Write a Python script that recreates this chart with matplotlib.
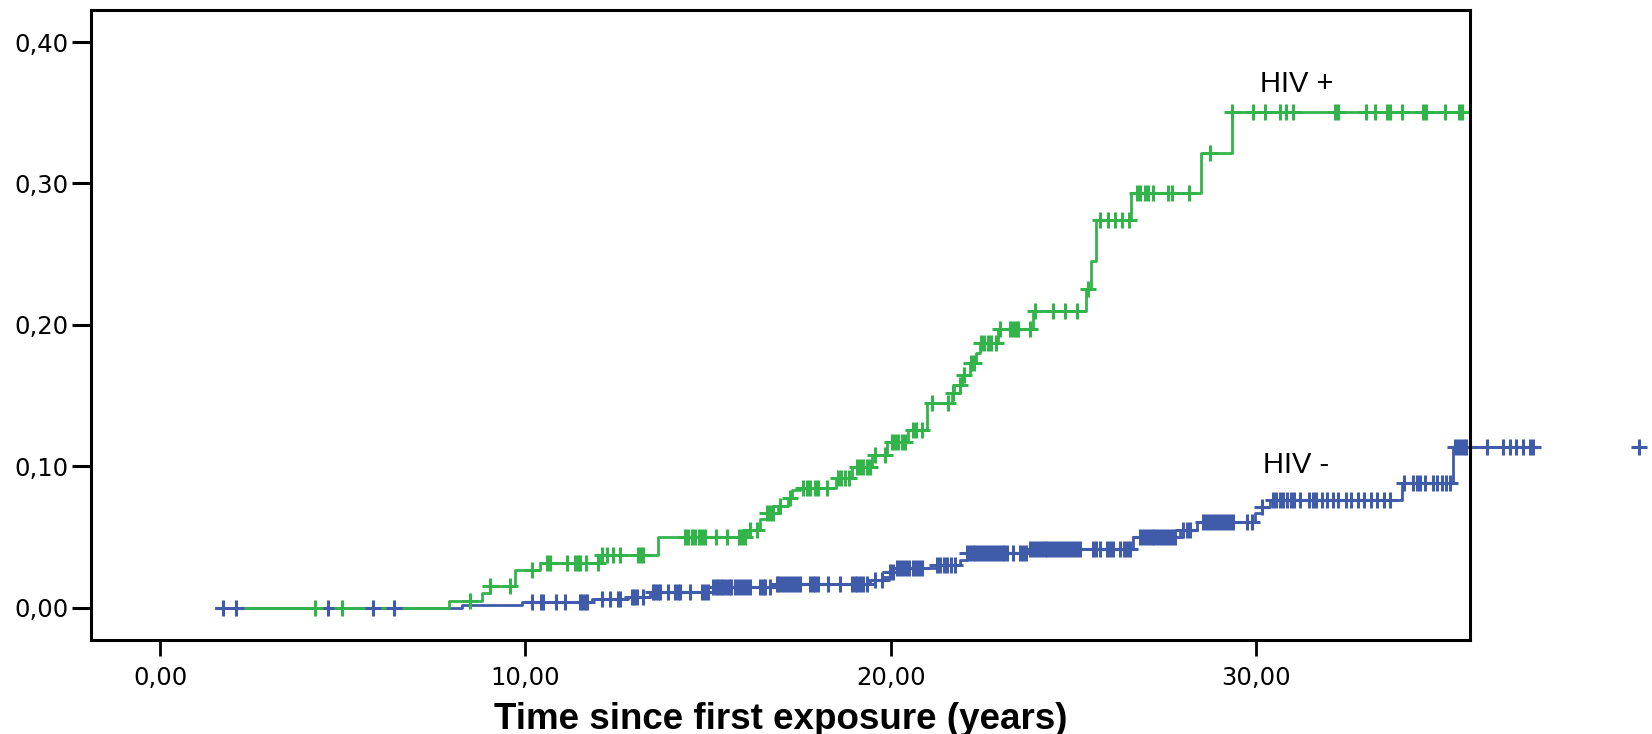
import numpy as np
import matplotlib
matplotlib.use("Agg")
import matplotlib.pyplot as plt

# ---- data (cumulative hazard style step curves) ----
# HIV+ : step times and the level reached at each time
pos_t = [2.30, 7.92, 8.80, 9.03, 9.72, 10.40, 12.08, 13.64, 16.06, 16.42,
         16.60, 16.92, 17.20, 17.29, 17.52, 18.50, 18.93, 19.48, 19.91, 20.48,
         21.00, 21.67, 21.73, 21.94, 22.17, 22.33, 22.44, 22.95, 23.90, 25.35,
         25.48, 25.62, 26.57, 28.49, 29.35]
pos_y = [0.0, 0.0050, 0.0104, 0.0155, 0.0269, 0.0316, 0.0375, 0.0500, 0.0550,
         0.0626, 0.0669, 0.0720, 0.0775, 0.0834, 0.0846, 0.0917, 0.0999, 0.1080,
         0.1170, 0.1258, 0.1447, 0.1518, 0.1576, 0.1647, 0.1730, 0.1800, 0.1870,
         0.1970, 0.2100, 0.2253, 0.2450, 0.2740, 0.2930, 0.3214, 0.3508]
pos_cens = [4.24, 4.99, 8.48, 9.03, 9.58, 10.19, 10.58, 10.67, 11.13, 11.36,
            11.43, 11.50, 11.66, 12.00, 12.10, 12.23, 12.40, 12.59, 13.09, 13.16,
            13.23, 14.37, 14.45, 14.56, 14.64, 14.74, 14.83, 14.92, 15.22, 15.51,
            15.85, 15.93, 16.01, 16.15, 16.33, 16.60, 16.69, 16.78, 16.97, 17.24,
            17.60, 17.70, 17.79, 17.93, 18.00, 18.25, 18.56, 18.65, 18.75, 18.85,
            19.07, 19.15, 19.25, 19.35, 19.43, 19.57, 19.84, 20.03, 20.12, 20.20,
            20.30, 20.40, 20.61, 20.70, 20.85, 21.12, 21.58, 21.71, 21.90, 22.00,
            22.20, 22.28, 22.47, 22.55, 22.65, 22.75, 22.88, 22.99, 23.27, 23.35,
            23.42, 23.49, 23.81, 23.95, 24.45, 24.77, 25.09, 25.41, 25.73, 25.96,
            26.14, 26.33, 26.51, 26.73, 26.82, 26.96, 27.05, 27.18, 27.60, 27.69,
            28.17, 28.74, 29.35, 29.93, 30.25, 30.66, 30.82, 31.00, 32.16, 32.25,
            33.01, 33.26, 33.58, 33.67, 34.00, 34.58, 34.65, 35.16, 35.56, 35.65]
pos_end = 35.70

# HIV-
neg_t = [1.53, 8.26, 9.92, 11.81, 12.82, 13.41, 15.14, 16.79, 19.43, 19.80,
         19.98, 20.16, 21.26, 21.90, 22.08, 23.77, 26.64, 27.92, 28.38, 29.97,
         30.16, 30.38, 33.99, 35.40]
neg_y = [0.0, 0.0018, 0.0038, 0.0060, 0.0080, 0.0115, 0.0150, 0.0170, 0.0198,
         0.0220, 0.0257, 0.0280, 0.0300, 0.0339, 0.0387, 0.0415, 0.0504, 0.0551,
         0.0610, 0.0670, 0.0716, 0.0763, 0.0881, 0.1140]
neg_cens = [1.73, 2.08, 4.60, 5.82, 6.41, 10.17, 10.42, 10.49, 10.84, 11.08,
            11.50, 11.56, 11.62, 11.68, 12.09, 12.32, 12.54, 12.59, 12.91, 12.98,
            13.05, 13.23, 13.49, 13.55, 13.62, 13.68, 13.90, 14.10, 14.17, 14.23,
            14.50, 14.83, 14.92, 15.00, 15.14, 15.21, 15.28, 15.35, 15.42, 15.50,
            15.57, 15.64, 15.74, 15.82, 15.90, 15.98, 16.06, 16.15, 16.42, 16.50,
            16.56, 16.69, 16.88, 16.95, 17.03, 17.10, 17.18, 17.26, 17.35, 17.44,
            17.52, 17.79, 17.87, 17.94, 18.00, 18.28, 18.61, 18.93, 19.01, 19.09,
            19.17, 19.25, 19.34, 19.57, 19.75, 19.98, 20.07, 20.16, 20.25, 20.33,
            20.42, 20.50, 20.60, 20.70, 20.78, 20.85, 21.26, 21.35, 21.45, 21.55,
            21.66, 21.76, 22.08, 22.16, 22.24, 22.32, 22.40, 22.48, 22.56, 22.64,
            22.72, 22.80, 22.88, 22.96, 23.04, 23.10, 23.17, 23.35, 23.54, 23.62,
            23.70, 23.81, 23.89, 23.97, 24.05, 24.13, 24.21, 24.29, 24.37, 24.45,
            24.53, 24.61, 24.70, 24.78, 24.86, 24.94, 25.02, 25.10, 25.18, 25.54,
            25.62, 25.73, 25.92, 26.00, 26.09, 26.28, 26.38, 26.46, 26.55, 26.82,
            26.90, 26.98, 27.06, 27.14, 27.22, 27.30, 27.38, 27.46, 27.54, 27.62,
            27.70, 27.78, 28.00, 28.10, 28.20, 28.55, 28.63, 28.71, 28.80, 28.88,
            28.96, 29.05, 29.13, 29.21, 29.30, 29.37, 29.75, 29.88, 30.16, 30.47,
            30.55, 30.65, 30.75, 30.85, 30.95, 31.05, 31.20, 31.45, 31.55, 31.65,
            31.80, 31.95, 32.10, 32.25, 32.45, 32.60, 32.80, 32.95, 33.15, 33.30,
            33.50, 33.67, 34.05, 34.30, 34.40, 34.50, 34.62, 34.85, 34.95, 35.10,
            35.20, 35.31, 35.45, 35.52, 35.60, 35.68, 35.76, 35.86, 36.33, 36.77,
            36.95, 37.13, 37.31, 37.50, 37.59, 40.49]
neg_end = 37.65

yticks = [0.0, 0.1, 0.2, 0.3, 0.4]
ytick_labels = ["0,00", "0,10", "0,20", "0,30", "0,40"]
xticks = [0, 10, 20, 30]
xtick_labels = ["0,00", "10,00", "20,00", "30,00"]

GREEN = "#33b44a"
BLUE = "#3f5ba9"


def level_at(times, levels, x):
    idx = np.searchsorted(times, x, side="right") - 1
    idx = np.clip(idx, 0, len(levels) - 1)
    return np.asarray(levels)[idx]


fig = plt.figure(figsize=(16.52, 7.34), dpi=100)
ax = fig.add_axes([0.0549, 0.1281, 0.8352, 0.8576])

# --- step lines ---
for t, y, end, col, z in [(neg_t, neg_y, neg_end, BLUE, 2),
                          (pos_t, pos_y, pos_end, GREEN, 3)]:
    xs = list(t) + [end]
    ys = list(y) + [y[-1]]
    ax.step(xs, ys, where="post", color=col, lw=2.0, zorder=z, clip_on=False)

# --- censor marks ---
for t, y, cens, col in [(neg_t, neg_y, neg_cens, BLUE),
                        (pos_t, pos_y, pos_cens, GREEN)]:
    c = np.array(cens)
    ax.plot(c, level_at(t, y, c), "+", color=col, ms=12, mew=2.2,
            linestyle="none", zorder=4, clip_on=False)

ax.text(30.11, 0.365, "HIV +", fontsize=21, family="Liberation Sans",
        ha="left", va="baseline")
ax.text(30.2, 0.0952, "HIV -", fontsize=21, family="Liberation Sans",
        ha="left", va="baseline")

ax.set_xlim(-1.90, 35.87)
ax.set_ylim(-0.0227, 0.4223)
ax.set_yticks(yticks)
ax.set_yticklabels(ytick_labels)
ax.set_xticks(xticks)
ax.set_xticklabels(xtick_labels)

for sp in ax.spines.values():
    sp.set_linewidth(2.2)
    sp.set_color("black")
    sp.set_zorder(5)

ax.tick_params(axis="y", length=14, width=2.2, pad=2, labelsize=17.5)
ax.tick_params(axis="x", length=11.5, width=2.0, pad=7, labelsize=17.5)

ax.set_xlabel("Time since first exposure (years)", fontsize=26.5,
              fontweight="bold", family="Liberation Sans", labelpad=9)

fig.savefig("out.png", dpi=100)
